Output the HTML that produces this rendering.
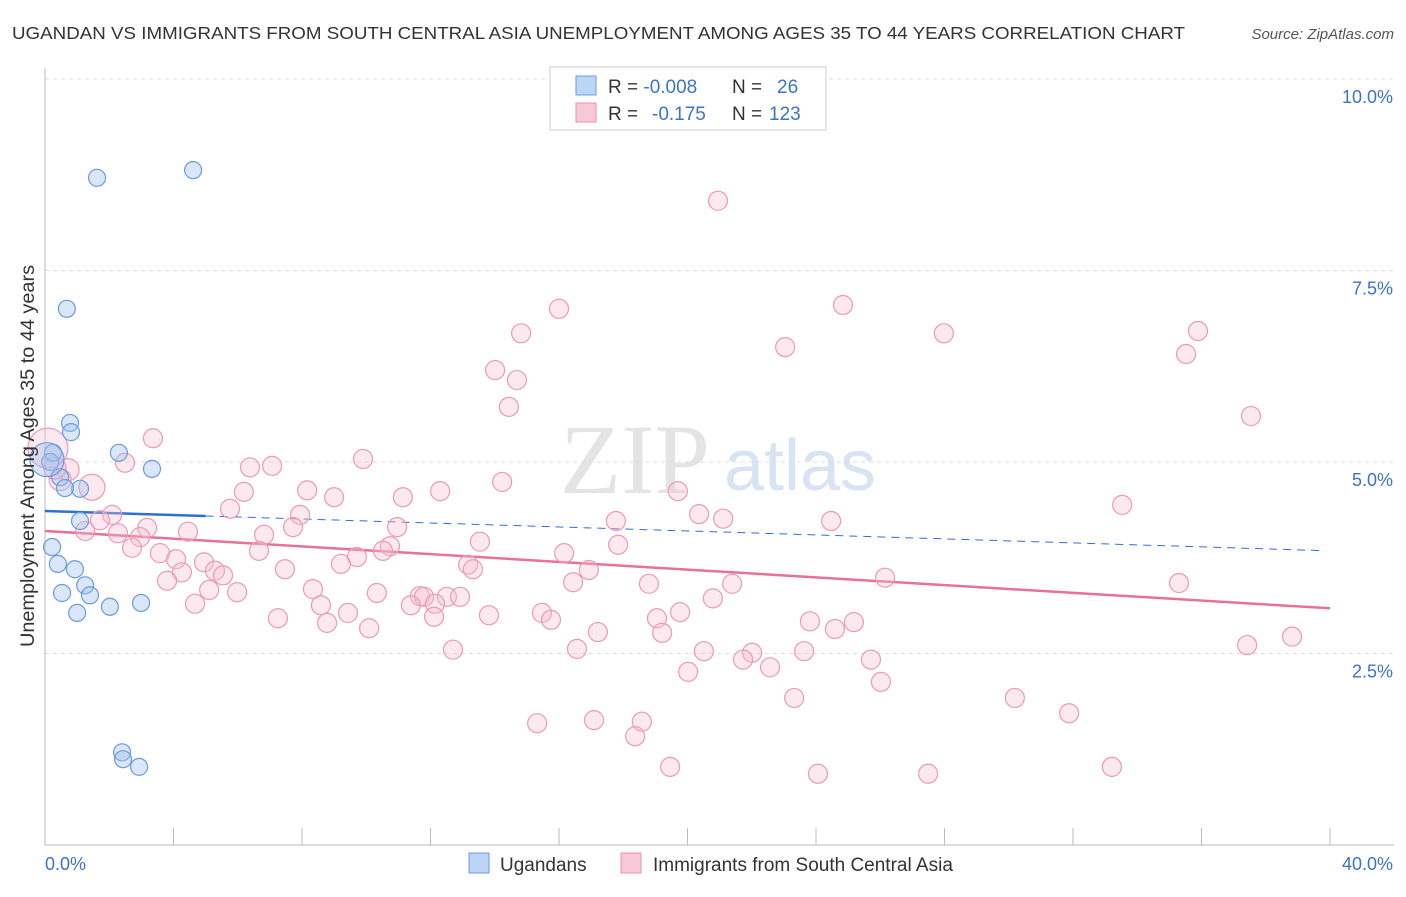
<!DOCTYPE html>
<html><head><meta charset="utf-8"><style>
body{margin:0;background:#fff;font-family:"Liberation Sans",sans-serif}
</style></head><body>
<svg id="chart" width="1406" height="892" xmlns="http://www.w3.org/2000/svg">
<text x="12" y="39" font-size="17.5" fill="#333" textLength="1173" lengthAdjust="spacingAndGlyphs">UGANDAN VS IMMIGRANTS FROM SOUTH CENTRAL ASIA UNEMPLOYMENT AMONG AGES 35 TO 44 YEARS CORRELATION CHART</text>
<text x="1394" y="39" font-size="15" fill="#555" text-anchor="end" font-style="italic">Source: ZipAtlas.com</text>
<text x="635" y="493" font-size="100" fill="#e4e4e4" font-family="Liberation Serif" text-anchor="middle">ZIP</text>
<text x="800" y="490" font-size="72" fill="#d8e4f2" text-anchor="middle">atlas</text>
<g id="grid"></g><g id="axes"></g><g id="lines"></g><g id="pts"></g>
<text transform="translate(34,456) rotate(-90)" font-size="19" fill="#333" text-anchor="middle" textLength="382" lengthAdjust="spacingAndGlyphs">Unemployment Among Ages 35 to 44 years</text>
<g>
<rect x="550" y="67" width="276" height="63" fill="#fff" stroke="#ccc"/>
<rect x="576" y="76" width="20" height="19" fill="#bcd5f5" stroke="#6a9be0"/>
<rect x="576" y="103" width="20" height="19" fill="#f8c8d8" stroke="#e890ae"/>
<text x="608" y="93" font-size="19" fill="#333">R = <tspan fill="#3b73c8">-0.008</tspan><tspan x="732">N = </tspan><tspan x="777" fill="#3b73c8">26</tspan></text>
<text x="608" y="120" font-size="19" fill="#333">R = <tspan x="652" fill="#3b73c8">-0.175</tspan><tspan x="732">N = </tspan><tspan x="769" fill="#3b73c8">123</tspan></text>
</g>
<g>
<rect x="469" y="853" width="20" height="20" fill="#bcd5f5" stroke="#6a9be0"/>
<text x="500" y="871" font-size="19" fill="#333">Ugandans</text>
<rect x="621" y="853" width="20" height="20" fill="#f8c8d8" stroke="#e890ae"/>
<text x="653" y="871" font-size="19" fill="#333">Immigrants from South Central Asia</text>
</g>
</svg>
<script>
const xTicks=[0,4,8,12,16,20,24,28,32,36,40];
const yTicks=[2.5,5,7.5,10];
const yTickLabels=["2.5%","5.0%","7.5%","10.0%"];
const blueX=[1.62,4.61,0.68,0.78,0.81,2.30,0.25,3.33,0.16,0.47,1.09,0.62,1.09,0.22,0.40,0.93,1.25,0.53,1.40,1.0,2.02,2.99,2.40,2.43,2.93,0.06];
const blueY=[8.71,8.81,7.0,5.51,5.39,5.12,5.12,4.91,5.0,4.80,4.65,4.66,4.23,3.89,3.67,3.60,3.39,3.29,3.26,3.03,3.11,3.16,1.21,1.12,1.02,5.03];
const pinkX=[20.95,16.0,24.84,27.98,35.89,14.82,23.04,35.52,14.01,14.69,14.44,37.54,3.36,2.49,6.38,7.07,9.90,14.23,19.70,6.19,8.16,9.0,11.14,12.30,33.53,5.76,7.94,7.72,10.96,17.77,20.36,21.11,24.47,6.82,4.45,3.18,2.09,1.71,1.25,2.27,2.96,13.54,10.74,10.52,16.16,17.84,6.66,2.71,3.58,4.08,4.95,9.71,9.21,13.17,13.32,16.93,7.47,4.26,5.29,5.54,3.80,5.11,5.98,8.34,10.33,11.67,11.80,12.51,16.44,18.80,21.39,26.15,35.30,4.67,8.59,11.39,12.14,12.92,13.82,15.47,19.77,20.79,7.25,8.78,9.43,10.09,12.11,15.75,19.05,23.81,25.18,24.59,17.21,19.21,12.70,16.56,20.51,22.01,23.63,21.73,22.57,25.71,37.42,38.82,20.02,26.02,23.32,30.19,31.88,15.32,17.09,18.58,18.37,19.46,24.06,27.49,33.21,0.09,0.72,1.46,0.47,0.31];
const pinkY=[8.41,7.0,7.05,6.68,6.71,6.68,6.50,6.41,6.20,6.07,5.72,5.60,5.31,4.99,4.93,4.95,5.04,4.74,4.62,4.61,4.63,4.54,4.54,4.62,4.44,4.39,4.31,4.15,4.15,4.23,4.32,4.26,4.23,4.05,4.09,4.14,4.31,4.24,4.10,4.07,4.02,3.96,3.90,3.84,3.81,3.92,3.84,3.88,3.81,3.73,3.69,3.76,3.67,3.66,3.60,3.59,3.60,3.56,3.58,3.52,3.45,3.33,3.30,3.34,3.29,3.25,3.24,3.24,3.43,3.41,3.41,3.49,3.42,3.15,3.13,3.13,3.15,3.24,3.00,3.03,3.04,3.22,2.96,2.90,3.03,2.83,2.98,2.94,2.96,2.92,2.91,2.82,2.78,2.77,2.55,2.56,2.53,2.51,2.53,2.42,2.32,2.42,2.61,2.72,2.26,2.13,1.92,1.92,1.72,1.59,1.63,1.61,1.42,1.02,0.93,0.93,1.02,5.18,4.90,4.67,4.77,4.92];
const blueTrend=[4.36,3.84];
const pinkTrend=[4.10,3.09];
const NS="http://www.w3.org/2000/svg";
const sx=v=>45+v*32.125, sy=v=>845-v*76.6;
function mk(tag,attrs,parent){const e=document.createElementNS(NS,tag);for(const k in attrs)e.setAttribute(k,attrs[k]);document.getElementById(parent).appendChild(e);return e;}
yTicks.forEach((t,i)=>{
 const g=mk('line',{x1:45,x2:1394,y1:sy(t),y2:sy(t),stroke:'#ddd','stroke-dasharray':'4,4'},'grid');
 
 
 const l=mk('text',{x:1393,y:sy(t)+24,'font-size':18,fill:'#3b73c8','text-anchor':'end'},'axes');
 l.textContent=yTickLabels[i];
 
 
});
const ax=mk('line',{x1:45,x2:1394,y1:845,y2:845,stroke:'#bbb'},'axes');


const ay=mk('line',{x1:45,x2:45,y1:68,y2:845,stroke:'#bbb'},'axes');


xTicks.forEach(t=>{const tk=mk('line',{x1:sx(t),x2:sx(t),y1:828,y2:845,stroke:'#bbb'},'axes');
 
 });
const x0=mk('text',{x:45,y:870,'font-size':18,fill:'#3b73c8'},'axes');x0.textContent='0.0%';


const x1=mk('text',{x:1393,y:870,'font-size':18,fill:'#3b73c8','text-anchor':'end'},'axes');x1.textContent='40.0%';


function pt(x,y,r,fill,stroke,name){const c=mk('circle',{cx:sx(x),cy:sy(y),r:r,fill:fill,stroke:stroke,'stroke-width':1.2},'pts');
 
 }
pinkX.forEach((x,i)=>pt(x,pinkY[i],i>=pinkX.length-5?(i==pinkX.length-5?20:(i==pinkX.length-3?13:11)):9.5,'rgba(246,190,208,0.35)','#ec9ab6','pink-point'));
blueX.forEach((x,i)=>pt(x,blueY[i],i==blueX.length-1?17:8.5,'rgba(160,196,240,0.4)','#6a9be0','blue-point'));
const bs=(x)=>blueTrend[0]+(blueTrend[1]-blueTrend[0])*x/40;
const ps=(x)=>pinkTrend[0]+(pinkTrend[1]-pinkTrend[0])*x/40;
const b1=mk('line',{x1:sx(0),y1:sy(bs(0)),x2:sx(5),y2:sy(bs(5)),stroke:'#2f6fd6','stroke-width':2.5},'lines');


const b2=mk('line',{x1:sx(5),y1:sy(bs(5)),x2:sx(39.8),y2:sy(bs(39.8)),stroke:'#2f6fd6','stroke-width':1,'stroke-dasharray':'8,6'},'lines');


const p1=mk('line',{x1:sx(0),y1:sy(ps(0)),x2:sx(40),y2:sy(ps(40)),stroke:'#e8709a','stroke-width':2.5},'lines');


</script>
</body></html>
